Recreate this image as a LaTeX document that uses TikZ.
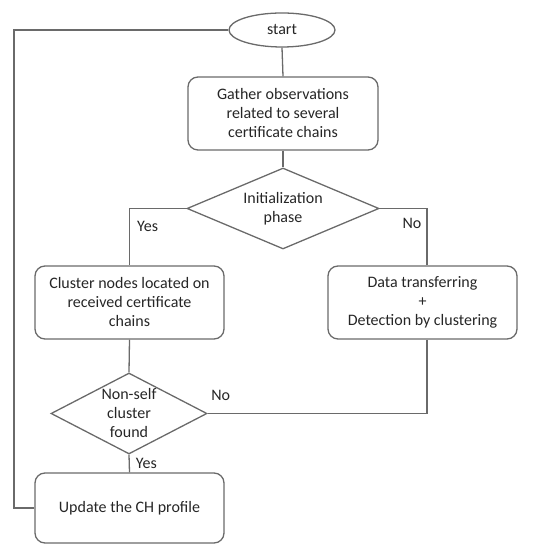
\documentclass[tikz,border=0pt]{standalone}
\usepackage{fontspec}
\setmainfont{Carlito}
\usetikzlibrary{shapes.geometric}
\definecolor{linegray}{HTML}{6A6A6A}
\definecolor{txt}{HTML}{262626}
\tikzset{
  every node/.style={font=\fontsize{16}{19}\selectfont, text=txt},
  conn/.style={draw=linegray, line width=1.3pt},
  stepbox/.style={draw=linegray, line width=1.3pt, rounded corners=10pt, align=center, minimum width=189pt, minimum height=73pt, inner sep=0pt},
  decision/.style={draw=linegray, line width=1.3pt, diamond, align=center, inner sep=-4pt},
  terminal/.style={draw=linegray, line width=1.3pt, ellipse, minimum width=106pt, minimum height=34pt, inner sep=0pt},
  lbl/.style={inner sep=0pt}
}
\begin{document}
\begin{tikzpicture}[x=1pt,y=1pt]
\useasboundingbox (0,0) rectangle (532,545);
\node[terminal] (start) at (282,515) {start};
\node[stepbox, minimum width=190pt] (gather) at (283,431.5) {Gather observations\\related to several\\certificate chains};
\node[decision, shape aspect=2.37, minimum width=192pt, minimum height=81pt] (init) at (283,336.5) {Initialization\\phase};
\node[stepbox] (cluster) at (129.5,242.5) {Cluster nodes located on\\received certificate\\chains};
\node[stepbox] (data) at (422.5,242.5) {Data transferring\\+\\Detection by clustering};
\node[decision, shape aspect=1.93, minimum width=156pt, minimum height=81pt] (nonself) at (129,131.5) {Non-self\\cluster\\found};
\node[stepbox, minimum height=70pt] (update) at (129.5,37) {Update the CH profile};
\coordinate (loop) at (14,37);

\draw[conn] (start.south) -- (gather.north);
\draw[conn] (gather.south) -- (init.north);
\draw[conn] (init.west) -| node[lbl, pos=0.5, anchor=north west, xshift=7pt, yshift=-12pt] {Yes} (cluster.north);
\draw[conn] (init.east) -| node[lbl, pos=0.5, anchor=north east, xshift=-5pt, yshift=-9pt] {No} ([xshift=4.5pt]data.north);
\draw[conn] (cluster.south) -- (nonself.north);
\draw[conn] ([xshift=4.5pt]data.south) |- node[lbl, pos=1, anchor=south west, xshift=3pt, yshift=12pt] {No} (nonself.east);
\draw[conn] (nonself.south) -- node[lbl, anchor=west, xshift=6pt] {Yes} (update.north);
\draw[conn] (update.west) -- (loop) |- (start.west);
\end{tikzpicture}
\end{document}
